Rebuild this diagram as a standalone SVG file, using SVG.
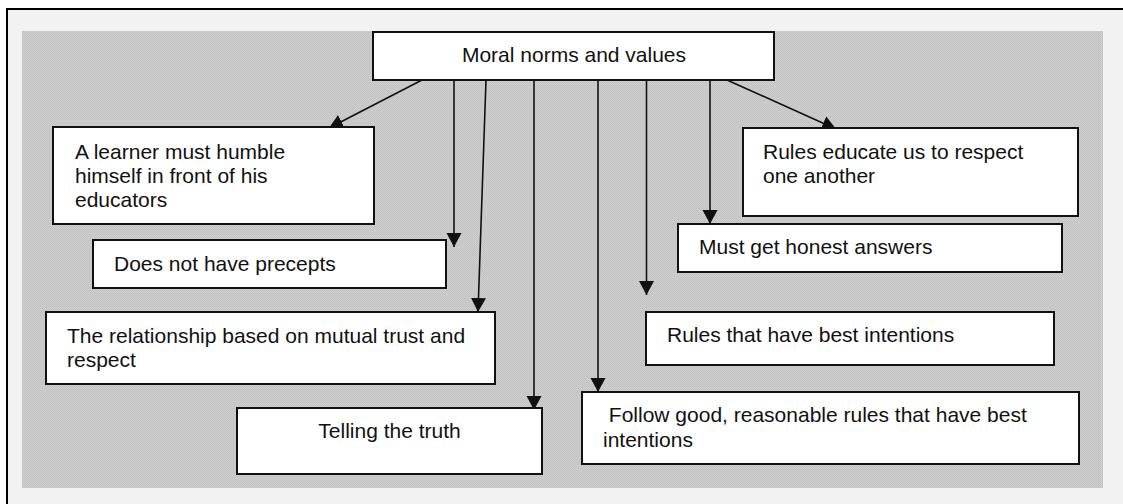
<svg xmlns="http://www.w3.org/2000/svg" width="1123" height="504" viewBox="0 0 1123 504">
  <defs>
    <style>
      .box { fill: #ffffff; stroke: #111111; stroke-width: 2; }
      .lbl { font-family: "Liberation Sans", Arial, sans-serif; font-size: 21px; fill: #111111; }
      .mid { text-anchor: middle; }
      .link { stroke: #111111; stroke-width: 1.6; fill: none; marker-end: url(#head); }
    </style>
    <marker id="head" markerUnits="userSpaceOnUse" markerWidth="16" markerHeight="16" refX="14" refY="7.5" orient="auto">
      <path d="M0,0 L14,7.5 L0,15 Z" fill="#111111"/>
    </marker>
    <pattern id="grain" width="2" height="2" patternUnits="userSpaceOnUse">
      <rect width="2" height="2" fill="#cdcdcd"/>
      <rect width="1" height="1" fill="#c2c2c2"/>
      <rect x="1" y="1" width="1" height="1" fill="#c6c6c6"/>
    </pattern>
  </defs>

  <!-- page frame and shaded panel -->
  <rect x="0" y="0" width="1123" height="504" fill="#ffffff"/>
  <rect x="7" y="9" width="1130" height="510" fill="#f2f2f2" stroke="#000000" stroke-width="2"/>
  <rect x="22" y="31" width="1081" height="457" fill="url(#grain)"/>

  <!-- connectors -->
  <g id="connectors">
    <line class="link" x1="422" y1="80" x2="329" y2="128"/>
    <line class="link" x1="454" y1="80" x2="454" y2="247"/>
    <line class="link" x1="486" y1="80" x2="478" y2="312"/>
    <line class="link" x1="534" y1="80" x2="534" y2="410"/>
    <line class="link" x1="598" y1="80" x2="598" y2="392"/>
    <line class="link" x1="646.5" y1="80" x2="646.5" y2="295"/>
    <line class="link" x1="710" y1="80" x2="710" y2="224"/>
    <line class="link" x1="727" y1="80" x2="836" y2="129"/>
  </g>

  <g id="root">
    <rect class="box" x="373" y="32" width="401" height="48"/>
    <text class="lbl mid" x="574" y="62">Moral norms and values</text>
  </g>

  <g id="learner">
    <rect class="box" x="53" y="127" width="321" height="97"/>
    <text class="lbl" x="75" y="159">A learner must humble</text>
    <text class="lbl" x="75" y="183">himself in front of his</text>
    <text class="lbl" x="75" y="207">educators</text>
  </g>

  <g id="precepts">
    <rect class="box" x="93" y="240" width="353" height="48"/>
    <text class="lbl" x="114" y="271">Does not have precepts</text>
  </g>

  <g id="relationship">
    <rect class="box" x="46" y="312" width="449" height="72"/>
    <text class="lbl" x="67" y="343">The relationship based on mutual trust and</text>
    <text class="lbl" x="67" y="367">respect</text>
  </g>

  <g id="truth">
    <rect class="box" x="237" y="408" width="305" height="66"/>
    <text class="lbl mid" x="389.5" y="438">Telling the truth</text>
  </g>

  <g id="follow-rules">
    <rect class="box" x="582" y="392" width="497" height="72"/>
    <text class="lbl" x="603" y="422" xml:space="preserve"> Follow good, reasonable rules that have best</text>
    <text class="lbl" x="603" y="447">intentions</text>
  </g>

  <g id="best-intentions">
    <rect class="box" x="646" y="312" width="408" height="53"/>
    <text class="lbl" x="667" y="342">Rules that have best intentions</text>
  </g>

  <g id="honest-answers">
    <rect class="box" x="678" y="224" width="384" height="48"/>
    <text class="lbl" x="699" y="254">Must get honest answers</text>
  </g>

  <g id="respect">
    <rect class="box" x="743" y="128" width="335" height="88"/>
    <text class="lbl" x="763" y="159">Rules educate us to respect</text>
    <text class="lbl" x="763" y="183">one another</text>
  </g>
</svg>
